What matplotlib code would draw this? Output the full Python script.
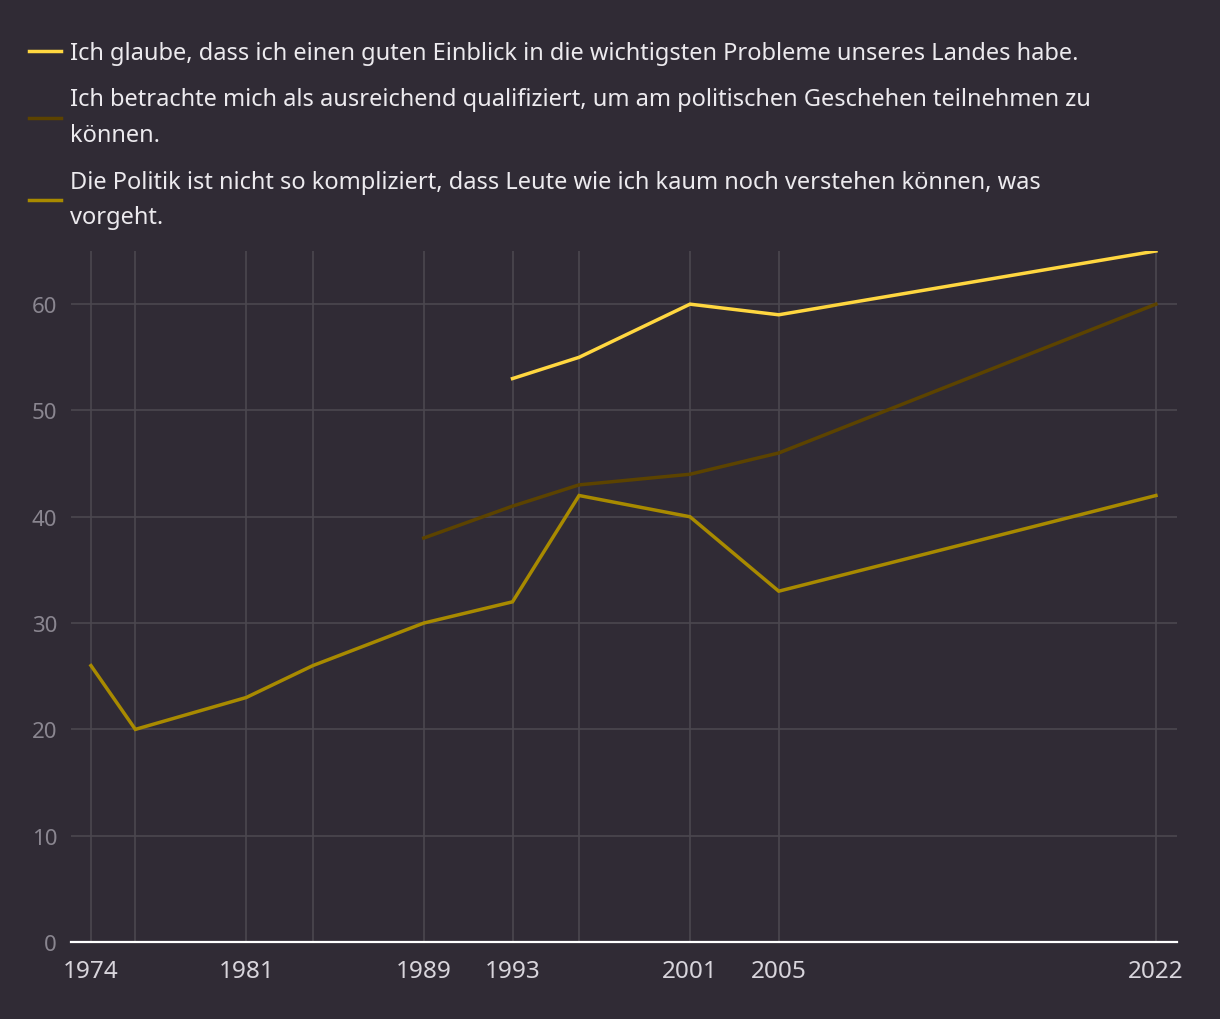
import matplotlib
matplotlib.use("Agg")
import matplotlib.pyplot as plt
import numpy as np

plt.rcParams['font.family'] = ['Noto Sans', 'DejaVu Sans']

years_einblick = [1993, 1996, 2001, 2005, 2022]
vals_einblick = [53, 55, 60, 59, 65]
years_qualifiziert = [1989, 1993, 1996, 2001, 2005, 2022]
vals_qualifiziert = [38, 41, 43, 44, 46, 60]
years_politik = [1974, 1976, 1981, 1984, 1989, 1993, 1996, 2001, 2005, 2022]
vals_politik = [26, 20, 23, 26, 30, 32, 42, 40, 33, 42]

labels = [
    "Ich glaube, dass ich einen guten Einblick in die wichtigsten Probleme unseres Landes habe.",
    "Ich betrachte mich als ausreichend qualifiziert, um am politischen Geschehen teilnehmen zu\nkönnen.",
    "Die Politik ist nicht so kompliziert, dass Leute wie ich kaum noch verstehen können, was\nvorgeht.",
]
colors = ["#FFD740", "#5C4300", "#A88A00"]

grid_years = [1974, 1976, 1981, 1984, 1989, 1993, 1996, 2001, 2005, 2022]
label_years = [1974, 1981, 1989, 1993, 2001, 2005, 2022]
y_ticks = [0, 10, 20, 30, 40, 50, 60]

bg = "#302B35"
fig = plt.figure(figsize=(12.2, 10.2), dpi=100, facecolor=bg)
ax = fig.add_axes([71/1220, 1-943/1020, (1177-71)/1220, (943-252)/1020])
ax.set_facecolor(bg)

lines = []
for xs, ys, c, lab in zip([years_einblick, years_qualifiziert, years_politik],
                          [vals_einblick, vals_qualifiziert, vals_politik], colors, labels):
    l, = ax.plot(xs, ys, color=c, lw=2.5, label=lab, solid_joinstyle='miter', zorder=3)
    lines.append(l)

ax.set_xlim(1973.1, 2022.95)
ax.set_ylim(0, 65)
ax.set_xticks(grid_years)
ax.set_xticklabels([str(y) if y in label_years else "" for y in grid_years])
ax.set_yticks(y_ticks)
ax.set_yticklabels([str(v) for v in y_ticks])
ax.grid(True, color="#4B474F", lw=1.2, zorder=0)
for s in ["top", "right", "left"]:
    ax.spines[s].set_visible(False)
ax.spines["bottom"].set_color("white")
ax.spines["bottom"].set_linewidth(1.6)
ax.spines["bottom"].set_zorder(4)
ax.tick_params(axis="both", length=0)
ax.tick_params(axis="x", colors="#D8D5DC", labelsize=17.5, pad=12)
ax.tick_params(axis="y", colors="#8A8690", labelsize=16, pad=10)

leg = fig.legend(handles=lines, loc="upper left", bbox_to_anchor=(29/1220, 1-42/1020),
                 frameon=False, fontsize=17, handlelength=1.36, handletextpad=0.36,
                 labelspacing=0.95, labelcolor="#ECEAEE", borderaxespad=0, borderpad=0)
for t in leg.get_texts():
    t.set_linespacing(1.65)

fig.savefig("out.png", dpi=100, facecolor=bg)
